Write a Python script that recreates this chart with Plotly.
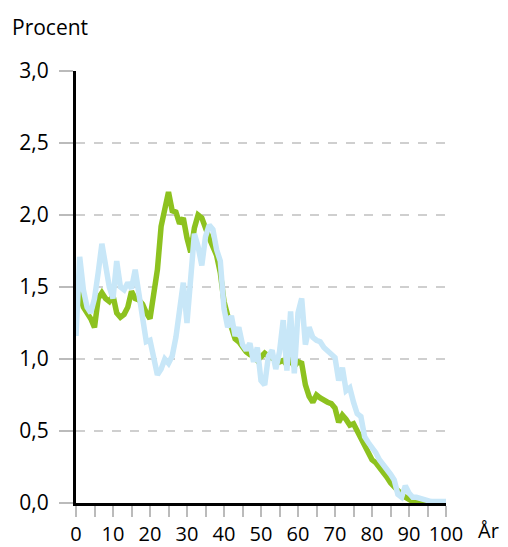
import plotly.graph_objects as go

ages = list(range(0, 101))

green = [1.47, 1.45, 1.36, 1.32, 1.28, 1.22, 1.42, 1.46, 1.42, 1.40,
         1.44, 1.32, 1.29, 1.31, 1.36, 1.47, 1.42, 1.41, 1.38, 1.32,
         1.28, 1.45, 1.62, 1.92, 2.06, 2.16, 2.03, 2.02, 1.94, 1.98,
         1.84, 1.74, 1.91, 2.00, 1.98, 1.90, 1.84, 1.78, 1.72, 1.60,
         1.40, 1.30, 1.22, 1.14, 1.12, 1.08, 1.05, 1.03, 1.02, 0.99,
         1.01, 1.04, 1.02, 1.01, 0.99, 0.98, 0.99, 0.96, 0.99, 0.95,
         0.98, 0.97, 0.82, 0.74, 0.70, 0.75, 0.73, 0.71, 0.70, 0.69,
         0.66, 0.56, 0.61, 0.58, 0.54, 0.55, 0.50, 0.44, 0.38, 0.33,
         0.30, 0.28, 0.25, 0.21, 0.18, 0.14, 0.11, 0.08, 0.06, 0.04,
         0.02, 0.01, 0.01, 0.01, 0.00, 0.00, 0.00, 0.00, 0.00, 0.00,
         0.00]

lightblue = [1.16, 1.71, 1.48, 1.36, 1.32, 1.42, 1.60, 1.80, 1.65, 1.50,
             1.42, 1.68, 1.50, 1.48, 1.53, 1.49, 1.62, 1.45, 1.30, 1.12,
             1.13, 1.00, 0.89, 0.93, 1.00, 0.97, 1.02, 1.15, 1.35, 1.53,
             1.25, 1.60, 1.87, 1.78, 1.65, 1.85, 1.93, 1.90, 1.76, 1.68,
             1.35, 1.22, 1.30, 1.16, 1.22, 1.10, 1.06, 1.11, 0.98, 1.08,
             0.85, 0.82, 1.02, 1.06, 0.93, 1.05, 1.27, 0.92, 1.33, 0.90,
             1.32, 1.42, 1.10, 1.22, 1.15, 1.13, 1.12, 1.08, 1.06, 1.04,
             1.01, 0.85, 0.94, 0.78, 0.80, 0.70, 0.62, 0.60, 0.46, 0.42,
             0.39, 0.35, 0.30, 0.27, 0.23, 0.20, 0.16, 0.06, 0.04, 0.12,
             0.07, 0.04, 0.04, 0.03, 0.02, 0.01, 0.01, 0.01, 0.01, 0.01,
             0.01]

y_ticks = [0, 0.5, 1.0, 1.5, 2.0, 2.5, 3.0]
y_labels = ["0,0", "0,5", "1,0", "1,5", "2,0", "2,5", "3,0"]
x_ticks = list(range(0, 101, 10))

FONT = "Open Sans"
FS = 21

fig = go.Figure()
fig.add_trace(go.Scatter(x=ages, y=green, mode="lines",
                         line=dict(color="#8DC21F", width=5.5), showlegend=False))
fig.add_trace(go.Scatter(x=ages, y=lightblue, mode="lines",
                         line=dict(color="#C8E7F8", width=5.5), showlegend=False))

fig.update_layout(
    width=508, height=547,
    margin=dict(l=68, r=70, t=63, b=52),
    paper_bgcolor="white", plot_bgcolor="white",
    font=dict(family=FONT, size=FS, color="black"),
    xaxis=dict(range=[0, 100], tickvals=x_ticks, ticks="outside", ticklen=11,
               tickcolor="#BBBBBB", tickwidth=1.5, showgrid=False,
               showline=True, linecolor="black", linewidth=3,
               minor=dict(dtick=5, tick0=0, ticks="outside", ticklen=11,
                          tickcolor="#BBBBBB", tickwidth=1.5, showgrid=False),
               tickfont=dict(family=FONT, size=20), zeroline=False,
               ticklabelstandoff=0, automargin=False),
    yaxis=dict(range=[0, 3], tickvals=y_ticks, ticktext=y_labels,
               ticks="outside", ticklen=14, tickcolor="#BBBBBB", tickwidth=1.5,
               showgrid=True, gridcolor="#CFCFCF", griddash="dash", gridwidth=1.5,
               showline=True, linecolor="black", linewidth=3,
               tickfont=dict(family=FONT, size=FS), zeroline=False,
               ticklabelstandoff=6, automargin=False),
    annotations=[
        dict(text="Procent", xref="paper", yref="paper", x=-0.178, y=1.102,
             xanchor="left", yanchor="middle", showarrow=False,
             font=dict(family=FONT, size=FS)),
        dict(text="År", xref="paper", yref="paper", x=1.082, y=-0.064,
             xanchor="left", yanchor="middle", showarrow=False,
             font=dict(family=FONT, size=20)),
    ],
)

fig.write_html("out.html")
